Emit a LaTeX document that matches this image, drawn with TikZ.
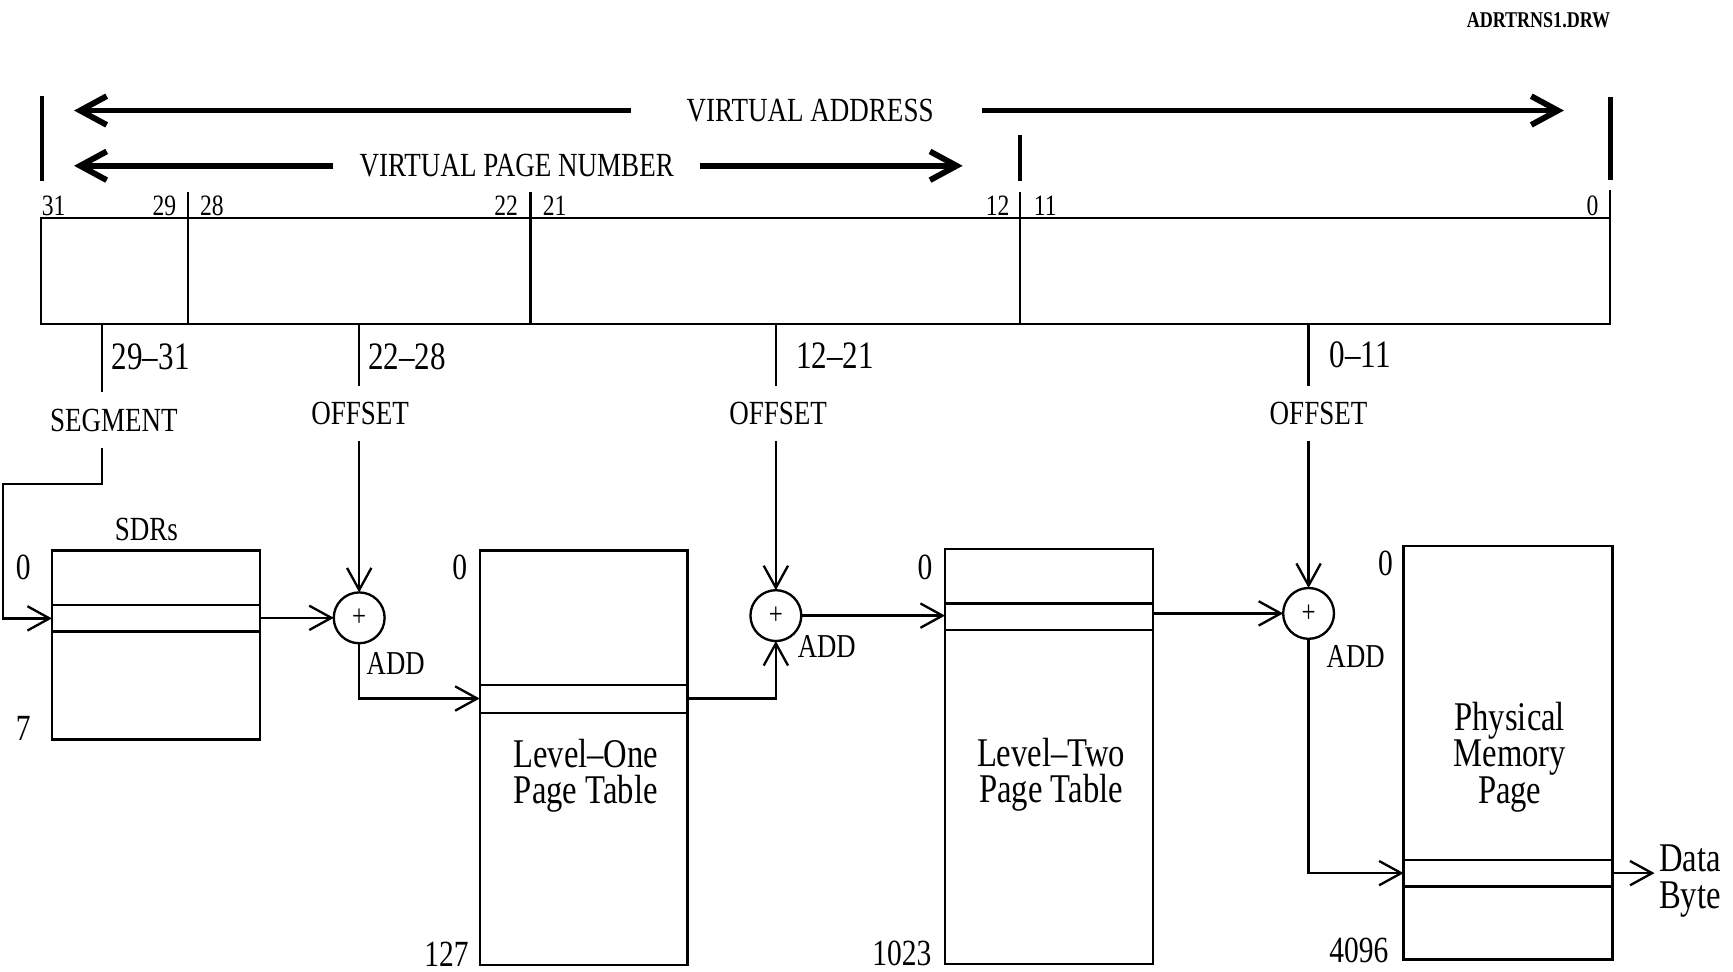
\documentclass[tikz,border=0pt]{standalone}
\usepackage{fontspec}
\setmainfont{Liberation Serif}[FakeStretch=0.8]
\usepackage{tikz}
\usetikzlibrary{arrows.meta, positioning, calc}

\tikzset{
  wire/.style={line width=0.6pt},
  arr/.style={wire, -{Straight Barb[length=2mm, width=2.2mm]}},
  bigarr/.style={line width=1.5pt, -{Straight Barb[length=2.4mm, width=2.6mm]}},
  bar/.style={line width=1.2pt},
  reg/.style={draw, wire, rectangle, minimum width=142mm, minimum height=9.6mm, inner sep=0pt, outer sep=0pt},
  tbl/.style={draw, wire, rectangle, minimum width=18.8mm, inner sep=0pt, outer sep=0pt},
  adder/.style={draw, wire, circle, minimum size=4.6mm, inner sep=0pt, outer sep=0pt, font=\fontsize{8}{8}\selectfont},
  capsl/.style={font=\fontsize{8.7}{10}\selectfont, inner ysep=1.4mm},
  addl/.style={font=\fontsize{8.6}{9}\selectfont},
  fld/.style={font=\fontsize{10}{11}\selectfont, inner sep=1pt},
  idx/.style={font=\fontsize{9.5}{11}\selectfont, inner sep=0pt},
  bitno/.style={font=\fontsize{7.6}{8}\selectfont, inner sep=0pt},
  txt/.style={font=\fontsize{10.5}{9.4pt}\selectfont, align=center},
}

\begin{document}
\begin{tikzpicture}[x=0.1mm, y=-0.1mm]
    \useasboundingbox (0,0) rectangle (1568,879);

    % Nombre del fichero
    \node[font=\fontsize{5.8}{7}\selectfont\bfseries] (fname) at (1392,18) {ADRTRNS1.DRW};

    % Direccion virtual y numero de pagina
    \draw[bar] (38,87) -- (38,164);
    \draw[bar] (1457,88) -- (1457,163);
    \draw[bar] (923,122) -- (923,164);
    \node[capsl, inner xsep=5mm] (vaddr) at (733,100) {VIRTUAL ADDRESS};
    \coordinate (vaL) at (67,100);
    \coordinate (vaR) at (1415,100);
    \draw[bigarr] (vaddr.west) -- (vaL);
    \draw[bigarr] ($(vaddr.east)+(-7,0)$) -- (vaR);
    \node[capsl, inner xsep=2.3mm] (vpn) at (467.5,150) {VIRTUAL PAGE NUMBER};
    \coordinate (vpnL) at (67,150);
    \coordinate (vpnR) at (871,150);
    \draw[bigarr] (vpn.west) -- (vpnL);
    \draw[bigarr] (vpn.east) -- (vpnR);

    % Registro de 32 bits
    \foreach \n/\x in {31/48.6, 29/148.8, 28/191.7, 22/458, 21/501.8, 12/902.6, 11/945.7, 0/1441}
      \node[bitno] (b\n) at (\x,186) {\n};
    \node[reg] (vreg) at (747,245) {};
    \draw[wire] (170,174) -- (170,293);
    \draw[wire] (480,174) -- (480,293);
    \draw[wire] (923,174) -- (923,293);
    \draw[wire] (1457,172) -- (1457,197);

    % Campos
    \coordinate (t1) at (92,293);
    \coordinate (t2) at (325,293);
    \coordinate (t3) at (702,293);
    \coordinate (t4) at (1184,293);
    \node[fld, anchor=west] (f1) at (97,323) {29--31};
    \node[fld, anchor=west] (f2) at (329,323) {22--28};
    \node[fld, anchor=west] (f3) at (716,322) {12--21};
    \node[fld, anchor=west] (f4) at (1199,321) {0--11};
    \node[capsl] (seg) at (103,380) {SEGMENT};
    \node[capsl] (off1) at (325.8,374) {OFFSET};
    \node[capsl] (off2) at (704,374) {OFFSET};
    \node[capsl] (off3) at (1193,374) {OFFSET};
    \draw[wire] (t1) -- (t1 |- seg.north);
    \draw[wire] (t2) -- (t2 |- off1.north);
    \draw[wire] (t3) -- (t3 |- off2.north);
    \draw[wire] (t4) -- (t4 |- off3.north);

    % SDRs
    \node[tbl, minimum height=17.1mm] (sdr) at (141,583.5) {};
    \node[capsl] (sdrname) at (132.5,479) {SDRs};
    \draw[wire] (47,547.5) -- (235,547.5);
    \draw[wire] (47,571.5) -- (235,571.5);
    \node[idx] (sdr0) at (21,513) {0};
    \node[idx] (sdr7) at (21,659) {7};
    \coordinate (sdrIn) at (47,559.5);

    % Tabla de nivel uno
    \node[tbl, minimum height=37.5mm] (l1) at (528,685.5) {};
    \draw[wire] (434,620) -- (622,620);
    \draw[wire] (434,645) -- (622,645);
    \node[txt] (l1name) at (530,702) {Level--One\\Page Table};
    \node[idx] (l1a) at (416,513) {0};
    \node[idx] (l1b) at (404,863) {127};
    \coordinate (l1In) at (434,632);
    \coordinate (l1Out) at (622,632);

    % Tabla de nivel dos
    \node[tbl, minimum height=37.5mm] (l2) at (949,684.5) {};
    \draw[wire] (855,546) -- (1043,546);
    \draw[wire] (855,570) -- (1043,570);
    \node[txt] (l2name) at (951,701) {Level--Two\\Page Table};
    \node[idx] (l2a) at (837,513) {0};
    \node[idx] (l2b) at (816,863) {1023};

    % Pagina fisica
    \node[tbl, minimum width=18.9mm, minimum height=37.4mm] (pm) at (1364.5,681) {};
    \draw[wire] (1270,778) -- (1459,778);
    \draw[wire] (1270,802) -- (1459,802);
    \node[txt] (pmname) at (1366,685) {Physical\\Memory\\Page};
    \node[idx] (pma) at (1253.5,510) {0};
    \node[idx] (pmb) at (1229.5,860) {4096};
    \coordinate (pmIn) at (1270,790);
    \node[txt, align=left, inner sep=1pt, anchor=west] (data) at (1497,797) {Data\\Byte};

    % Sumadores
    \node[adder] (add1) at (325,559) {+};
    \node[adder] (add2) at (702,557) {+};
    \node[adder] (add3) at (1184,555) {+};
    \node[addl] (add1l) at (358,600) {ADD};
    \node[addl] (add2l) at (748,585) {ADD};
    \node[addl] (add3l) at (1226.6,594) {ADD};

    % Flechas
    \coordinate (segbend) at (3,438);
    \draw[arr] (t1 |- seg.south) -- (t1 |- segbend) -- (segbend) -- (segbend |- sdrIn) -- (sdrIn);
    \draw[arr] (t2 |- off1.south) -- (add1.north);
    \draw[arr] (sdr.east |- add1) -- (add1.west);
    \draw[arr] (add1.south) -- (add1 |- l1In) -- (l1In);
    \draw[arr] (l1Out) -- (add2 |- l1Out) -- (add2.south);
    \draw[arr] (t3 |- off2.south) -- (add2.north);
    \draw[arr] (add2.east) -- (l2.west |- add2);
    \draw[arr] (l2.east |- add3) -- (add3.west);
    \draw[arr] (t4 |- off3.south) -- (add3.north);
    \draw[arr] (add3.south) -- (add3 |- pmIn) -- (pmIn);
    \draw[arr] (pm.east |- pmIn) -- (data.west |- pmIn);
\end{tikzpicture}
\end{document}
